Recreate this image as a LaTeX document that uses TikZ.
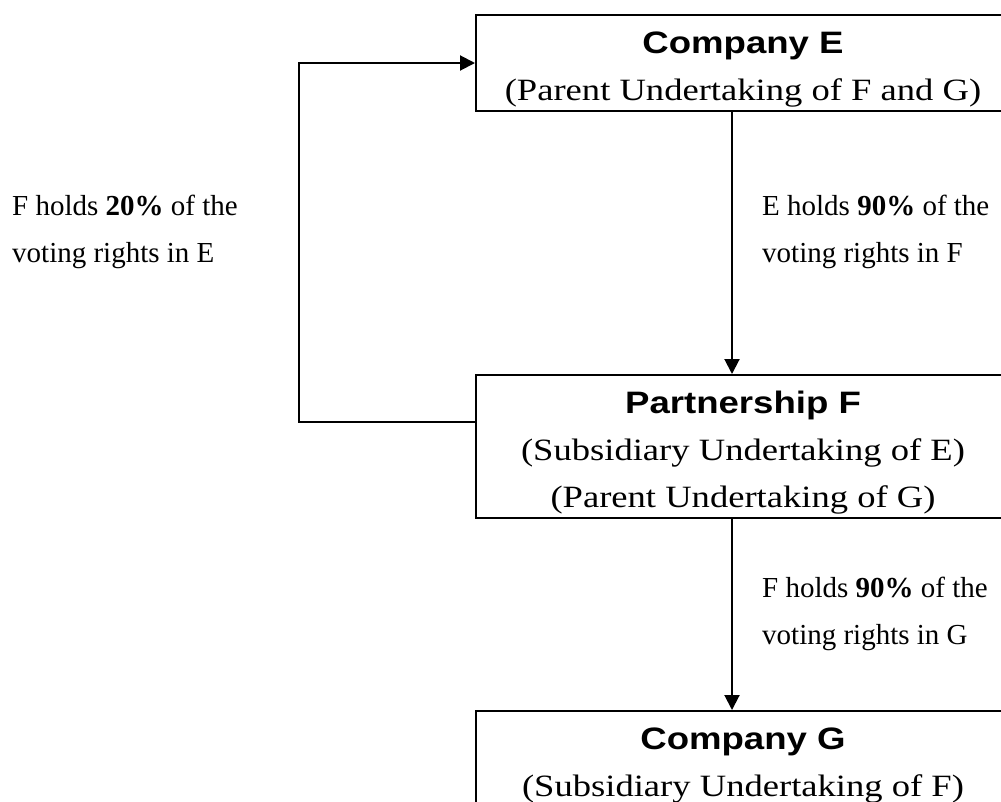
\documentclass[tikz,border=0pt]{standalone}
\usepackage{fontspec}
\setmainfont{Liberation Serif}
\newfontfamily\boxfont{Liberation Serif}[FakeStretch=1.18]
\newfontfamily\headfont{Liberation Sans}[FakeStretch=1.18]
\usetikzlibrary{arrows.meta, positioning, calc}
\tikzset{entity/.style={draw, line width=2pt, rectangle, anchor=north west, minimum width=534pt, align=center, inner xsep=2pt, inner ysep=4pt, font=\boxfont\fontsize{31pt}{47pt}\selectfont},
  holding/.style={anchor=west, align=left, inner sep=0pt, font=\fontsize{29pt}{47pt}\selectfont},
  link/.style={-{Triangle[length=15pt, width=15pt]}, line width=2pt}}
\newcommand{\headline}[1]{{\headfont\bfseries\rule{0pt}{34pt}#1}}
\newcommand{\lastline}[1]{#1\rule[-7pt]{0pt}{7pt}}

\begin{document}
\begin{tikzpicture}[x=1pt, y=-1pt]
    \useasboundingbox (0,0) rectangle (1001,801);
    \clip (0,0) rectangle (1001,801);
    % the three undertakings
    \node[entity] (compE) at (475,14) {\headline{Company E}\\\lastline{(Parent Undertaking of F and G)}};
    \node[entity] (partF) at (475,374) {\headline{Partnership F}\\(Subsidiary Undertaking of E)\\\lastline{(Parent Undertaking of G)}};
    \node[entity] (compG) at (475,710) {\headline{Company G}\\\lastline{(Subsidiary Undertaking of F)}};

    % helper coordinates for the lines
    \coordinate (axis) at (732,0);
    \coordinate (back) at (299,0);

    % holdings
    \draw[link] (compE.south -| axis) -- (partF.north -| axis);
    \draw[link] (partF.south -| axis) -- (compG.north -| axis);
    \draw[link] ([yshift=-48pt]partF.north west) -- ([yshift=-48pt]partF.north west -| back) -- (compE.west -| back) -- (compE.west);

    % labels
    \node[holding] (lblEF) at (762,232) {E holds \textbf{90\%} of the\\voting rights in F};
    \node[holding] (lblFG) at (762,614) {F holds \textbf{90\%} of the\\voting rights in G};
    \node[holding] (lblFE) at (12,232) {F holds \textbf{20\%} of the\\voting rights in E};
\end{tikzpicture}
\end{document}
